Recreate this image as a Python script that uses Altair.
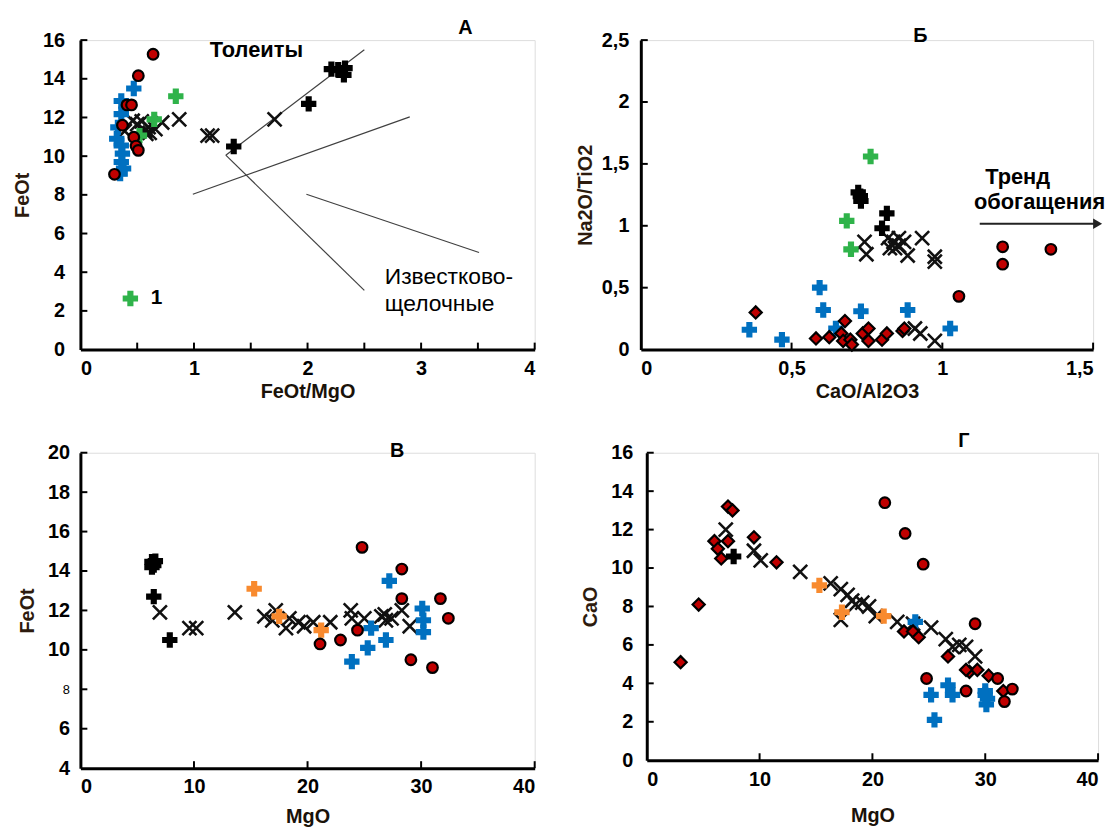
import altair as alt
import pandas as pd

FONT = "Liberation Sans"
RED = "#c00000"
BLUE = "#0070c0"
GREEN = "#2fb34a"
ORANGE = "#f88a2e"
TITLE_COLOR = "#2d1b0e"
XPATH = "M -1 -1 L 1 1 M -1 1 L 1 -1"

# ---------------- Panel A: FeOt vs FeOt/MgO ----------------
A_circle_x = [0.64, 0.51, 0.41, 0.45, 0.37, 0.47, 0.49, 0.51, 0.30]
A_circle_y = [15.27, 14.16, 12.65, 12.65, 11.6, 10.98, 10.52, 10.3, 9.06]
A_blue_x = [0.47, 0.36, 0.36, 0.33, 0.32, 0.36, 0.37, 0.36, 0.38, 0.35]
A_blue_y = [13.5, 12.85, 12.17, 11.49, 10.9, 10.55, 10.13, 9.7, 9.36, 9.1]
A_green_x = [0.84, 0.65, 0.52]
A_green_y = [13.1, 11.9, 11.06]
A_blackplus_x = [1.35, 2.01, 2.21, 2.27, 2.33, 2.32]
A_blackplus_y = [10.5, 12.7, 14.5, 14.47, 14.55, 14.2]
A_x_x = [0.46, 0.50, 0.57, 0.61, 0.66, 0.72, 0.87, 0.58, 0.39, 0.60, 0.54, 1.12, 1.16, 1.71]
A_x_y = [11.83, 11.66, 11.3, 11.2, 11.4, 11.74, 11.9, 11.15, 11.3, 11.5, 11.8, 11.06, 11.06, 11.9]
A_lines_x = [1.28, 1.28, 0.99, 1.99]
A_lines_y = [10.05, 10.05, 8.03, 8.03]
A_lines_x2 = [2.5, 2.5, 2.9, 3.51]
A_lines_y2 = [15.5, 3.06, 12.03, 5.02]
A_legend_x = [0.44]
A_legend_y = [2.64]

# ---------------- Panel Б: Na2O/TiO2 vs CaO/Al2O3 ----------------
B_green_x = [0.762, 0.683, 0.697]
B_green_y = [1.56, 1.04, 0.81]
B_blackplus_x = [0.721, 0.730, 0.816, 0.800, 0.728]
B_blackplus_y = [1.27, 1.20, 1.10, 0.98, 1.24]
B_x_x = [0.742, 0.748, 0.820, 0.838, 0.856, 0.873, 0.826, 0.885, 0.933, 0.975, 0.975, 0.909, 0.927, 0.975, 0.843, 0.856]
B_x_y = [0.87, 0.77, 0.90, 0.87, 0.90, 0.87, 0.82, 0.76, 0.90, 0.71, 0.75, 0.17, 0.13, 0.07, 0.82, 0.84]
B_blue_x = [0.360, 0.468, 0.593, 0.605, 0.730, 0.885, 1.026, 0.647]
B_blue_y = [0.16, 0.08, 0.50, 0.32, 0.31, 0.32, 0.17, 0.17]
B_diamond_x = [0.381, 0.581, 0.625, 0.665, 0.677, 0.671, 0.695, 0.700, 0.736, 0.755, 0.755, 0.800, 0.816, 0.868, 0.874]
B_diamond_y = [0.30, 0.09, 0.10, 0.13, 0.23, 0.07, 0.08, 0.04, 0.13, 0.17, 0.07, 0.08, 0.13, 0.15, 0.17]
B_circle_x = [1.20, 1.20, 1.36, 1.055]
B_circle_y = [0.83, 0.69, 0.81, 0.43]
B_arrow_x = [1.124]
B_arrow_x2 = [1.515]
B_arrow_y = [1.016]

# ---------------- Panel В: FeOt vs MgO ----------------
C_blackplus_x = [6.3, 6.46, 6.6, 6.46, 7.87, 6.3]
C_blackplus_y = [14.47, 14.3, 14.5, 12.7, 10.5, 14.2]
C_orange_x = [15.3, 17.5, 21.2]
C_orange_y = [13.1, 11.7, 11.0]
C_x_x = [7.0, 9.6, 10.2, 13.6, 16.2, 17.2, 16.9, 18.1, 18.4, 19.2, 19.7, 20.5, 22.0, 23.8, 23.9, 25.0, 26.5, 26.8, 26.9, 27.4, 28.3, 29.0]
C_x_y = [11.9, 11.1, 11.1, 11.9, 11.7, 12.0, 11.5, 11.1, 11.6, 11.4, 11.2, 11.4, 11.4, 12.0, 11.6, 11.6, 11.7, 11.8, 11.5, 11.6, 12.0, 11.2]
C_circle_x = [24.8, 28.3, 28.3, 31.7, 32.4, 24.4, 21.1, 22.9, 29.1, 31.0]
C_circle_y = [15.2, 14.1, 12.6, 12.6, 11.6, 11.0, 10.3, 10.5, 9.5, 9.1]
C_blue_x = [27.2, 30.1, 30.2, 30.2, 25.6, 25.3, 26.9, 23.9]
C_blue_y = [13.5, 12.1, 11.5, 10.9, 11.1, 10.1, 10.5, 9.4]

# ---------------- Panel Г: CaO vs MgO ----------------
D_diamond_x = [3.0, 4.6, 7.2, 7.6, 6.0, 7.2, 6.3, 6.6, 9.5, 11.5, 22.8, 23.6, 24.1, 26.7, 28.6, 29.3, 30.3, 31.6, 28.3]
D_diamond_y = [5.1, 8.1, 13.2, 13.0, 11.4, 11.4, 11.0, 10.5, 11.6, 10.3, 6.7, 6.7, 6.4, 5.4, 4.6, 4.7, 4.4, 3.6, 4.7]
D_circle_x = [21.1, 22.9, 24.5, 29.1, 24.8, 28.3, 31.1, 31.7, 32.4]
D_circle_y = [13.4, 11.8, 10.2, 7.1, 4.25, 3.6, 4.25, 3.05, 3.7]
D_x_x = [7.0, 9.5, 10.1, 13.6, 16.3, 17.2, 17.2, 17.8, 18.2, 18.5, 19.1, 19.7, 20.3, 22.2, 23.6, 25.2, 26.5, 27.1, 27.7, 28.3, 29.1]
D_x_y = [12.0, 10.9, 10.4, 9.8, 9.2, 8.9, 7.3, 8.6, 8.3, 8.1, 8.2, 8.0, 7.5, 7.2, 7.1, 6.9, 6.3, 5.9, 6.0, 5.9, 5.4]
D_blackplus_x = [7.7]
D_blackplus_y = [10.6]
D_orange_x = [15.3, 17.3, 21.0]
D_orange_y = [9.1, 7.7, 7.5]
D_blue_x = [23.8, 25.2, 25.5, 26.7, 27.1, 30.0, 30.2, 30.1, 30.0]
D_blue_y = [7.2, 3.4, 2.1, 3.9, 3.4, 3.6, 3.2, 2.9, 3.4]

PLUS_DOMAIN = ["blue", "green", "orange", "black"]
PLUS_RANGE = [BLUE, GREEN, ORANGE, "black"]


def df_xy(xs, ys, **extra):
    d = pd.DataFrame({"x": xs, "y": ys})
    for k, v in extra.items():
        d[k] = v
    return d


def panel(w, h, xdom, ydom, xlabels, ylabels, xticks, yticks, xtitle, ytitle,
          circles=None, diamonds=None, xs_=None, pluses=None, texts=None,
          rules=None, extra=None, label_expr=None, ylab_size=None, ylab_weight=None,
          ylabpad=16, ytitlepad=8, xtitlepad=4):
    xsc = alt.Scale(domain=xdom, nice=False, zero=False)
    ysc = alt.Scale(domain=ydom, nice=False, zero=False)
    common = dict(grid=False, ticks=False, domainWidth=3, domainColor="black",
                  labelFont=FONT, labelFontWeight="bold", labelFontSize=20,
                  labelColor="black", titleFont=FONT, titleFontWeight="bold",
                  titleFontSize=20)
    xkw = dict(common, title=xtitle, values=xlabels, labelPadding=9,
               titlePadding=xtitlepad, titleColor="#1a1209")
    ykw = dict(common, title=ytitle, values=ylabels, labelPadding=ylabpad,
               titlePadding=ytitlepad, titleColor=TITLE_COLOR)
    if label_expr:
        xkw["labelExpr"] = label_expr
        ykw["labelExpr"] = label_expr
        xkw["format"] = "~g"
        ykw["format"] = "~g"
    if ylab_size is not None:
        ykw["labelFontSize"] = ylab_size
    if ylab_weight is not None:
        ykw["labelFontWeight"] = ylab_weight
    xax = alt.Axis(**xkw)
    yax = alt.Axis(**ykw)

    def X(f="x"):
        return alt.X(f"{f}:Q", scale=xsc, axis=xax)

    def Y(f="y"):
        return alt.Y(f"{f}:Q", scale=ysc, axis=yax)

    layers = []
    layers.append(alt.Chart(pd.DataFrame({"y": yticks})).mark_rule(color="black", strokeWidth=2)
                  .encode(y=Y(), x=alt.value(0), x2=alt.value(7)))
    layers.append(alt.Chart(pd.DataFrame({"x": xticks})).mark_rule(color="black", strokeWidth=2)
                  .encode(x=X(), y=alt.value(h), y2=alt.value(h - 7)))
    if rules is not None:
        layers.append(alt.Chart(rules).mark_rule(color="#404040", strokeWidth=1.2)
                      .encode(x=X(), y=Y(), x2="x2:Q", y2="y2:Q"))
    if extra is not None:
        layers.extend(extra(X, Y))
    if xs_ is not None:
        layers.append(alt.Chart(xs_).mark_point(shape=XPATH, filled=False, stroke="#111111",
                                                strokeWidth=2.6, size=200, opacity=1)
                      .encode(x=X(), y=Y()))
    if pluses is not None:
        layers.append(alt.Chart(pluses).mark_point(shape="cross", filled=True, size=240,
                                                   opacity=1, strokeWidth=0)
                      .encode(x=X(), y=Y(),
                              color=alt.Color("s:N", scale=alt.Scale(domain=PLUS_DOMAIN, range=PLUS_RANGE),
                                              legend=None)))
    if diamonds is not None:
        layers.append(alt.Chart(diamonds).mark_point(shape="diamond", filled=True, fill=RED,
                                                     stroke="black", strokeWidth=2.2, size=150, opacity=1)
                      .encode(x=X(), y=Y()))
    if circles is not None:
        layers.append(alt.Chart(circles).mark_point(shape="circle", filled=True, fill=RED,
                                                    stroke="black", strokeWidth=2.2, size=115, opacity=1)
                      .encode(x=X(), y=Y()))
    if texts is not None:
        for t in texts:
            d = pd.DataFrame({"x": [t["x"]], "y": [t["y"]], "t": [t["t"]]})
            layers.append(alt.Chart(d).mark_text(font=FONT, fontSize=t.get("size", 21),
                                                 fontWeight=t.get("weight", "bold"),
                                                 align=t.get("align", "center"), baseline="middle",
                                                 color="black")
                          .encode(x=X(), y=Y(), text="t:N"))
    return alt.layer(*layers).properties(width=w, height=h)


# ---- Panel A
A_plus = pd.concat([df_xy(A_blue_x, A_blue_y, s="blue"),
                    df_xy(A_green_x, A_green_y, s="green"),
                    df_xy(A_blackplus_x, A_blackplus_y, s="black"),
                    df_xy(A_legend_x, A_legend_y, s="green")])
A_rules = pd.DataFrame({"x": A_lines_x, "y": A_lines_y, "x2": A_lines_x2, "y2": A_lines_y2})
A = panel(458, 312, [0, 4], [0, 16], [0, 1, 2, 3, 4], list(range(0, 17, 2)),
          [0.5 * i for i in range(1, 9)], list(range(2, 17, 2)), "FeOt/MgO", "FeOt",
          circles=df_xy(A_circle_x, A_circle_y), xs_=df_xy(A_x_x, A_x_y), pluses=A_plus,
          rules=A_rules,
          texts=[dict(x=1.55, y=15.5, t="Толеиты", size=22),
                 dict(x=3.39, y=16.6, t="А", size=20),
                 dict(x=2.68, y=3.75, t="Известково-", weight="normal", align="left", size=23),
                 dict(x=2.68, y=2.35, t="щелочные", weight="normal", align="left", size=23),
                 dict(x=0.62, y=2.64, t="1", align="left", size=21)],
          ylabpad=16, ytitlepad=10, xtitlepad=3)

# ---- Panel Б
B_plus = pd.concat([df_xy(B_blue_x, B_blue_y, s="blue"),
                    df_xy(B_green_x, B_green_y, s="green"),
                    df_xy(B_blackplus_x, B_blackplus_y, s="black")])


def B_extra(X, Y):
    ad = pd.DataFrame({"x": B_arrow_x, "x2": B_arrow_x2, "y": B_arrow_y})
    head = pd.DataFrame({"x": B_arrow_x2, "y": B_arrow_y})
    return [alt.Chart(ad).mark_rule(color="#222222", strokeWidth=2).encode(x=X(), x2="x2:Q", y=Y()),
            alt.Chart(head).mark_point(shape="triangle-right", filled=True, color="#222222",
                                       size=110, opacity=1).encode(x=X(), y=Y())]


B = panel(456, 312, [0, 1.5], [0, 2.5], [0, 0.5, 1, 1.5], [0, 0.5, 1, 1.5, 2, 2.5],
          [0.5, 1, 1.5], [0.5, 1, 1.5, 2, 2.5], "CaO/Al2O3", "Na2O/TiO2",
          circles=df_xy(B_circle_x, B_circle_y), diamonds=df_xy(B_diamond_x, B_diamond_y),
          xs_=df_xy(B_x_x, B_x_y), pluses=B_plus, extra=B_extra,
          texts=[dict(x=0.927, y=2.53, t="Б", size=20),
                 dict(x=1.142, y=1.39, t="Тренд", align="left", size=22),
                 dict(x=1.105, y=1.19, t="обогащения", align="left", size=22)],
          label_expr="replace(datum.label, '.', ',')", ylabpad=12, ytitlepad=6, xtitlepad=3)

# ---- Panel В
C_plus = pd.concat([df_xy(C_blue_x, C_blue_y, s="blue"),
                    df_xy(C_orange_x, C_orange_y, s="orange"),
                    df_xy(C_blackplus_x, C_blackplus_y, s="black")])
C = panel(458, 318, [0, 40], [4, 20], [0, 10, 20, 30, 40], list(range(4, 21, 2)),
          [10, 20, 30, 40], list(range(6, 21, 2)), "MgO", "FeOt",
          circles=df_xy(C_circle_x, C_circle_y), xs_=df_xy(C_x_x, C_x_y), pluses=C_plus,
          texts=[dict(x=27.9, y=20.1, t="В", size=20)],
          ylab_size={"condition": {"test": "datum.value == 8", "value": 13}, "value": 20},
          ylab_weight={"condition": {"test": "datum.value == 8", "value": "normal"}, "value": "bold"},
          ylabpad=11, ytitlepad=10, xtitlepad=10)

# ---- Panel Г
D_plus = pd.concat([df_xy(D_blue_x, D_blue_y, s="blue"),
                    df_xy(D_orange_x, D_orange_y, s="orange"),
                    df_xy(D_blackplus_x, D_blackplus_y, s="black")])
D = panel(455, 310, [0, 40], [0, 16], [0, 10, 20, 30, 40], list(range(0, 17, 2)),
          [10, 20, 30, 40], list(range(2, 17, 2)), "MgO", "CaO",
          circles=df_xy(D_circle_x, D_circle_y), diamonds=df_xy(D_diamond_x, D_diamond_y),
          xs_=df_xy(D_x_x, D_x_y), pluses=D_plus,
          texts=[dict(x=28.1, y=16.6, t="Г", size=20)],
          ylabpad=14, ytitlepad=10, xtitlepad=17)

chart = alt.vconcat(
    alt.hconcat(A, B, spacing=38),
    alt.hconcat(C, D, spacing=44),
    spacing=28,
).properties(padding={"left": 4, "top": 6, "right": 0, "bottom": 0}
).configure_view(stroke=None).configure(background="white")

chart.save("out.html", embed_options={"renderer": "svg", "actions": False})
